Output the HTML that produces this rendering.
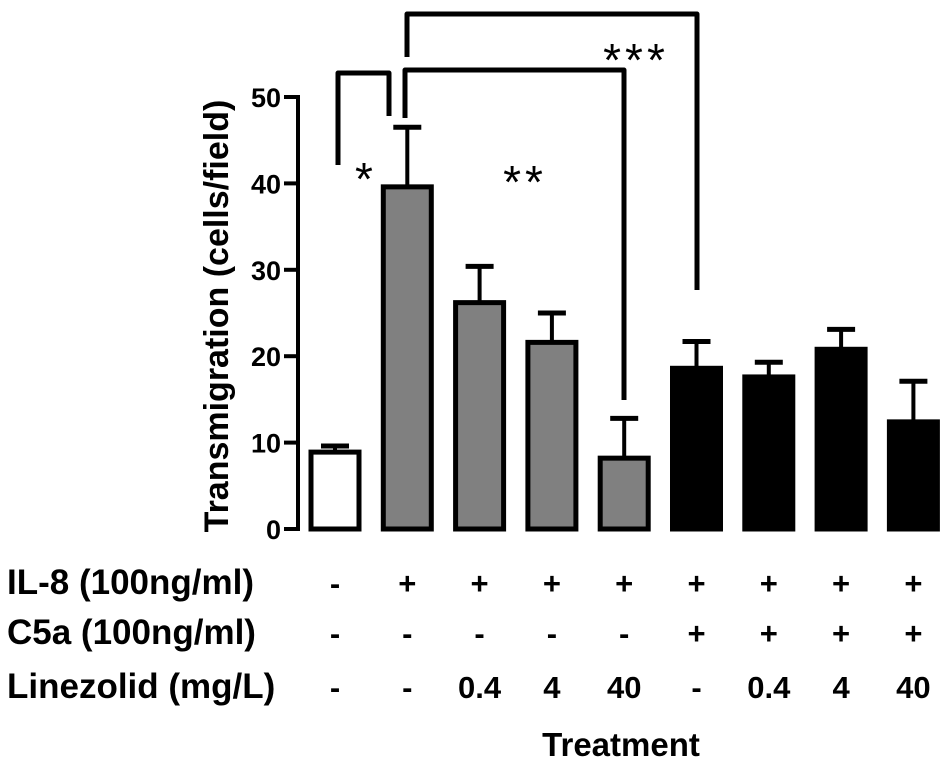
<!DOCTYPE html>
<html><head><meta charset="utf-8"><style>
html,body{margin:0;padding:0;background:#fff;}
svg{display:block;font-family:"Liberation Sans",Arial,sans-serif;}
</style></head><body>
<svg id="c" width="952" height="768" viewBox="0 0 952 768"></svg>
<script>
const categories=["1","2","3","4","5","6","7","8","9"];
const values=[8.9,39.6,26.2,21.6,8.2,18.6,17.6,20.8,12.4];
const errors=[0.7,6.9,4.2,3.4,4.6,3.1,1.7,2.3,4.7];
const fills=["#fff","#808080","#808080","#808080","#808080","#000","#000","#000","#000"];
const yTicks=[0,10,20,30,40,50];
const il8=["-","+","+","+","+","+","+","+","+"];
const c5a=["-","-","-","-","-","+","+","+","+"];
const lin=["-","-","0.4","4","40","-","0.4","4","40"];
const NS="http://www.w3.org/2000/svg";
const svg=document.getElementById('c');
const y0=529,y50=97;
const y=v=>y0-(y0-y50)*v/50;
const x=i=>335+i*72.3;
function el(t,a,p){const e=document.createElementNS(NS,t);for(const k in a)e.setAttribute(k,a[k]);(p||svg).appendChild(e);return e;}
const ax=el('line',{x1:298,y1:y(50),x2:298,y2:y0+2,stroke:'#000','stroke-width':4});


yTicks.forEach(t=>{
 const l=el('line',{x1:284,x2:300,y1:y(t),y2:y(t),stroke:'#000','stroke-width':4});
 
 
 const tx=el('text',{x:281,y:y(t)+10,'text-anchor':'end','font-size':27,'font-weight':'bold'});
 tx.textContent=t;
 
 
});
const yt=el('text',{x:0,y:0,transform:'translate(228,316) rotate(-90)','text-anchor':'middle','font-size':34,'font-weight':'bold'});
yt.textContent='Transmigration (cells/field)';


values.forEach((v,i)=>{
 const cx=x(i),w=48;
 const e=errors[i];
 const eb=el('line',{x1:cx,x2:cx,y1:y(v),y2:y(v+e),stroke:'#000','stroke-width':4});
 
 
 const cap=el('line',{x1:cx-14,x2:cx+14,y1:y(v+e),y2:y(v+e),stroke:'#000','stroke-width':5});
 
 
 const r=el('rect',{x:cx-w/2,y:y(v),width:w,height:y0-y(v),fill:fills[i],stroke:'#000','stroke-width':5});
 
 
});
function br(pts,name){const p=el('polyline',{points:pts,fill:'none',stroke:'#000','stroke-width':5,'stroke-linejoin':'round'});}
br("338,165 338,73 389,73 389,116","bracket-1");
br("405,118 405,70 624,70 624,400","bracket-2");
br("407,57 407,14 697,14 697,290","bracket-3");
function st(t,xx,yy,name,fs){const e=el('text',{x:xx,y:yy,'text-anchor':'middle','font-size':fs,'letter-spacing':4});e.textContent=t;}
st('*',366,195,'sig-star-1',46);
st('**',525,198,'sig-star-2',46);
st('***',636,76,'sig-star-3',46);
const rows=[["IL-8 (100ng/ml)",il8,594],["C5a (100ng/ml)",c5a,644],["Linezolid (mg/L)",lin,698]];
rows.forEach((r,ri)=>{
 const t=el('text',{x:7,y:r[2],'font-size':35,'font-weight':'bold'});
 t.textContent=r[0];
 
 
 r[1].forEach((s,i)=>{
  const u=el('text',{x:x(i),y:r[2],'text-anchor':'middle','font-size':31,'font-weight':'bold'});
  u.textContent=s;
  
  
 });
});
const xt=el('text',{x:621,y:756,'text-anchor':'middle','font-size':33,'font-weight':'bold'});
xt.textContent='Treatment';


</script>
</body></html>
